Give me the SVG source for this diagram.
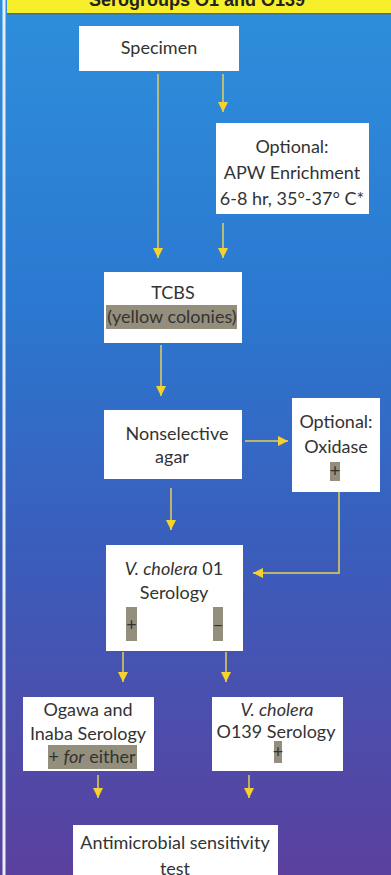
<svg xmlns="http://www.w3.org/2000/svg" width="391" height="875" viewBox="0 0 391 875">
<defs>
<linearGradient id="bg" x1="0" y1="0" x2="0" y2="1">
<stop offset="0" stop-color="#2e8fdc"/>
<stop offset="0.35" stop-color="#2b78d0"/>
<stop offset="0.62" stop-color="#3a5ebc"/>
<stop offset="1" stop-color="#5b409e"/>
</linearGradient>
<marker id="ah" viewBox="0 0 10 10" refX="10" refY="5" markerWidth="10" markerHeight="10" markerUnits="userSpaceOnUse" orient="auto">
<path d="M0,0 L10,5 L0,10 Z" fill="#f7d22c"/>
</marker>
</defs>
<style>
.box{fill:#ffffff}
.t{font-family:Lato,"Open Sans","Liberation Sans",sans-serif;font-size:18px;fill:#333333;text-anchor:middle}
.hl{fill:#948f7c}
.c{fill:none;stroke:#e6cf5a;stroke-width:1.5;marker-end:url(#ah)}
</style>
<rect x="0" y="0" width="391" height="875" fill="url(#bg)"/>
<rect x="7" y="0" width="384" height="13" fill="#f7ef2a"/>
<rect x="7" y="13" width="384" height="1.5" fill="#5a6a6a"/>
<text x="197" y="6" style="font-family:'Liberation Sans',sans-serif;font-size:18px;font-weight:bold;fill:#222;text-anchor:middle">Serogroups O1 and O139</text>
<rect x="2.5" y="0" width="3" height="875" fill="#e8eef6"/>

<g id="connectors">
<line class="c" x1="158" y1="74" x2="158" y2="258"/>
<line class="c" x1="223" y1="74" x2="223" y2="112"/>
<line class="c" x1="223" y1="223" x2="223" y2="258"/>
<line class="c" x1="161" y1="345" x2="161" y2="396"/>
<line class="c" x1="245" y1="441" x2="288" y2="441"/>
<line class="c" x1="171" y1="488" x2="171" y2="530"/>
<polyline class="c" points="339,492 339,573 253,573"/>
<line class="c" x1="123" y1="652" x2="123" y2="682"/>
<line class="c" x1="226" y1="652" x2="226" y2="682"/>
<line class="c" x1="98" y1="775" x2="98" y2="798"/>
<line class="c" x1="249" y1="775" x2="249" y2="798"/>
</g>

<g id="specimen">
<rect class="box" x="79" y="26" width="160" height="45"/>
<text class="t" x="159" y="54">Specimen</text>
</g>

<g id="apw">
<rect class="box" x="216" y="123" width="153" height="91"/>
<text class="t" x="292" y="153">Optional:</text>
<text class="t" x="292" y="179">APW Enrichment</text>
<text class="t" x="292" y="205">6-8 hr, 35°-37° C*</text>
</g>

<g id="tcbs">
<rect class="box" x="104" y="272" width="138" height="71"/>
<text class="t" x="173" y="299">TCBS</text>
<rect class="hl" x="106" y="305" width="131" height="24"/>
<text class="t" x="172" y="323">(yellow colonies)</text>
</g>

<g id="nonselective">
<rect class="box" x="104" y="410" width="138" height="69"/>
<text class="t" x="177" y="440">Nonselective</text>
<text class="t" x="172" y="463">agar</text>
</g>

<g id="oxidase">
<rect class="box" x="292" y="398" width="88" height="94"/>
<text class="t" x="336" y="428">Optional:</text>
<text class="t" x="336" y="453">Oxidase</text>
<rect class="hl" x="330" y="462" width="10" height="19"/>
<text class="t" x="335" y="477">+</text>
</g>

<g id="o1serology">
<rect class="box" x="106" y="545" width="137" height="106"/>
<text class="t" x="174" y="575"><tspan font-style="italic">V. cholera</tspan> 01</text>
<text class="t" x="174" y="599">Serology</text>
<rect class="hl" x="126" y="607" width="11" height="34"/>
<text class="t" x="131.5" y="631">+</text>
<rect class="hl" x="213" y="607" width="10" height="34"/>
<text class="t" x="218" y="631">−</text>
</g>

<g id="ogawa">
<rect class="box" x="23" y="697" width="131" height="74"/>
<text class="t" x="88" y="716">Ogawa and</text>
<text class="t" x="88" y="740">Inaba Serology</text>
<rect class="hl" x="48" y="745" width="89" height="24"/>
<text class="t" x="92" y="763">+ <tspan font-style="italic">for</tspan> either</text>
</g>

<g id="o139">
<rect class="box" x="212" y="697" width="131" height="74"/>
<text class="t" x="277" y="716" font-style="italic">V. cholera</text>
<text class="t" x="276" y="738">O139 Serology</text>
<rect class="hl" x="274" y="741" width="8" height="22"/>
<text class="t" x="278" y="758">+</text>
</g>

<g id="antimicrobial">
<rect class="box" x="73" y="825" width="205" height="60"/>
<text class="t" x="175" y="849">Antimicrobial sensitivity</text>
<text class="t" x="175" y="875">test</text>
</g>
</svg>
